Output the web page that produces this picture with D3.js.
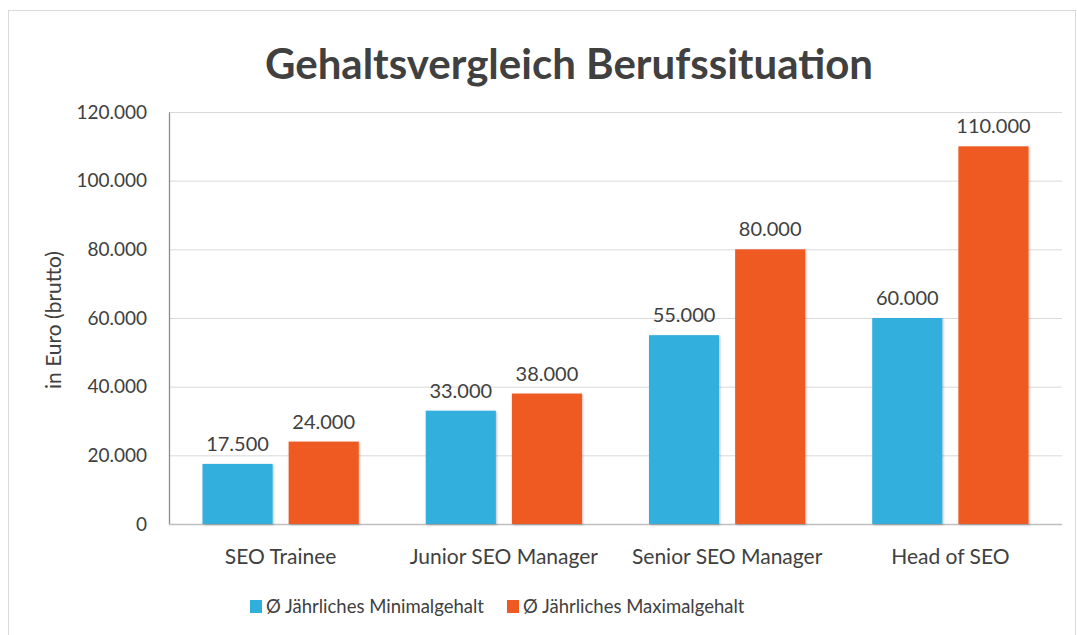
<!DOCTYPE html>
<html>
<head>
<meta charset="utf-8">
<script src="https://cdn.jsdelivr.net/npm/d3@7"></script>
<style>
  body { margin: 0; background: #fff; }
  text { font-family: Lato, "Noto Sans", sans-serif; fill: #404040; }
</style>
</head>
<body>
<div id="chart"></div>
<script>
// data
const categories = ["SEO Trainee", "Junior SEO Manager", "Senior SEO Manager", "Head of SEO"];
const minSalary = [17500, 33000, 55000, 60000];
const maxSalary = [24000, 38000, 80000, 110000];
const seriesNames = ["Ø Jährliches Minimalgehalt", "Ø Jährliches Maximalgehalt"];
const yTicks = [0, 20000, 40000, 60000, 80000, 100000, 120000];

const W = 1077, H = 635;
const margin = {top: 112, right: 15, bottom: 111, left: 169};
const colors = ["#30afdc", "#ef5a22"];

const svg = d3.select("#chart").append("svg")
    .attr("width", W)
    .attr("height", H);

// soft shadow like the original
const defs = svg.append("defs");
const f = defs.append("filter").attr("id", "shadow")
    .attr("x", "-10%").attr("y", "-10%").attr("width", "130%").attr("height", "130%");
f.append("feDropShadow").attr("dx", 1).attr("dy", 1).attr("stdDeviation", 1.2)
    .attr("flood-color", "#000").attr("flood-opacity", 0.25);

// outer frame
svg.append("rect")
    .attr("x", 8.5).attr("y", 10.5)
    .attr("width", W - 10).attr("height", H)
    .attr("fill", "none").attr("stroke", "#d9d9d9");

const g = svg.append("g").attr("transform", `translate(${margin.left},${margin.top})`);
const width = W - margin.left - margin.right;
const height = H - margin.top - margin.bottom;

const x0 = d3.scaleBand().domain(categories).range([0, width]).paddingInner(0.3).paddingOuter(0.15);
const x1 = d3.scaleBand().domain([0, 1]).range([0, x0.bandwidth()]).paddingInner(0.186);
const y = d3.scaleLinear().domain([0, 120000]).range([height, 0]);

const fmt = d => d3.format(",")(d).replace(/,/g, ".");

// gridlines
g.append("g")
    .selectAll("line")
    .data(yTicks.slice(1))
    .join("line")
        .attr("x1", 0).attr("x2", width)
        .attr("y1", d => y(d) + 0.5).attr("y2", d => y(d) + 0.5)
        .attr("stroke", "#d9d9d9");

// y axis
const yAxis = g.append("g")
    .call(d3.axisLeft(y).tickValues(yTicks).tickFormat(fmt).tickSize(0).tickPadding(22));
yAxis.select(".domain").attr("stroke", "#8c8c8c").attr("stroke-width", 1.3);
yAxis.selectAll("text").style("font-size", "19px").attr("fill", "#404040");

// x baseline
g.append("line")
    .attr("x1", 0).attr("x2", width)
    .attr("y1", height + 0.5).attr("y2", height + 0.5)
    .attr("stroke", "#bfbfbf").attr("stroke-width", 1.5);

// bars
const groups = g.selectAll(".grp")
    .data(categories.map((c, i) => ({c, vals: [minSalary[i], maxSalary[i]]})))
    .join("g")
        .attr("class", "grp")
        .attr("transform", d => `translate(${x0(d.c)},0)`);

groups.selectAll("rect")
    .data(d => d.vals.map((v, k) => ({v, k})))
    .join("rect")
        .attr("x", d => x1(d.k))
        .attr("y", d => y(d.v))
        .attr("width", x1.bandwidth())
        .attr("height", d => height - y(d.v))
        .attr("fill", d => colors[d.k])
        .attr("filter", "url(#shadow)");

groups.selectAll(".val")
    .data(d => d.vals.map((v, k) => ({v, k})))
    .join("text")
        .attr("class", "val")
        .attr("x", d => x1(d.k) + x1.bandwidth() / 2)
        .attr("y", d => y(d.v) - 13)
        .attr("text-anchor", "middle")
        .style("font-size", "20px")
        .text(d => fmt(d.v));

// x axis labels
g.append("g").selectAll("text")
    .data(categories)
    .join("text")
        .attr("x", d => x0(d) + x0.bandwidth() / 2)
        .attr("y", height + 40)
        .attr("text-anchor", "middle")
        .style("font-size", "21px")
        .text(d => d);

// y axis title
svg.append("text")
    .attr("transform", `translate(61,320) rotate(-90)`)
    .attr("text-anchor", "middle")
    .style("font-size", "21px")
    .text("in Euro (brutto)");

// title
svg.append("text")
    .attr("x", 569).attr("y", 79)
    .attr("text-anchor", "middle")
    .style("font-size", "42px")
    .style("font-weight", "bold")
    .attr("fill", "#333")
    .text("Gehaltsvergleich Berufssituation");

// legend
const legX = [250, 507];
const leg = svg.append("g").selectAll("g")
    .data(seriesNames)
    .join("g")
        .attr("transform", (d, i) => `translate(${legX[i]},600)`);
leg.append("rect").attr("width", 12).attr("height", 13).attr("fill", (d, i) => colors[i]);
leg.append("text").attr("x", 16).attr("y", 13).style("font-size", "18.5px").text(d => d);
</script>
</body>
</html>
